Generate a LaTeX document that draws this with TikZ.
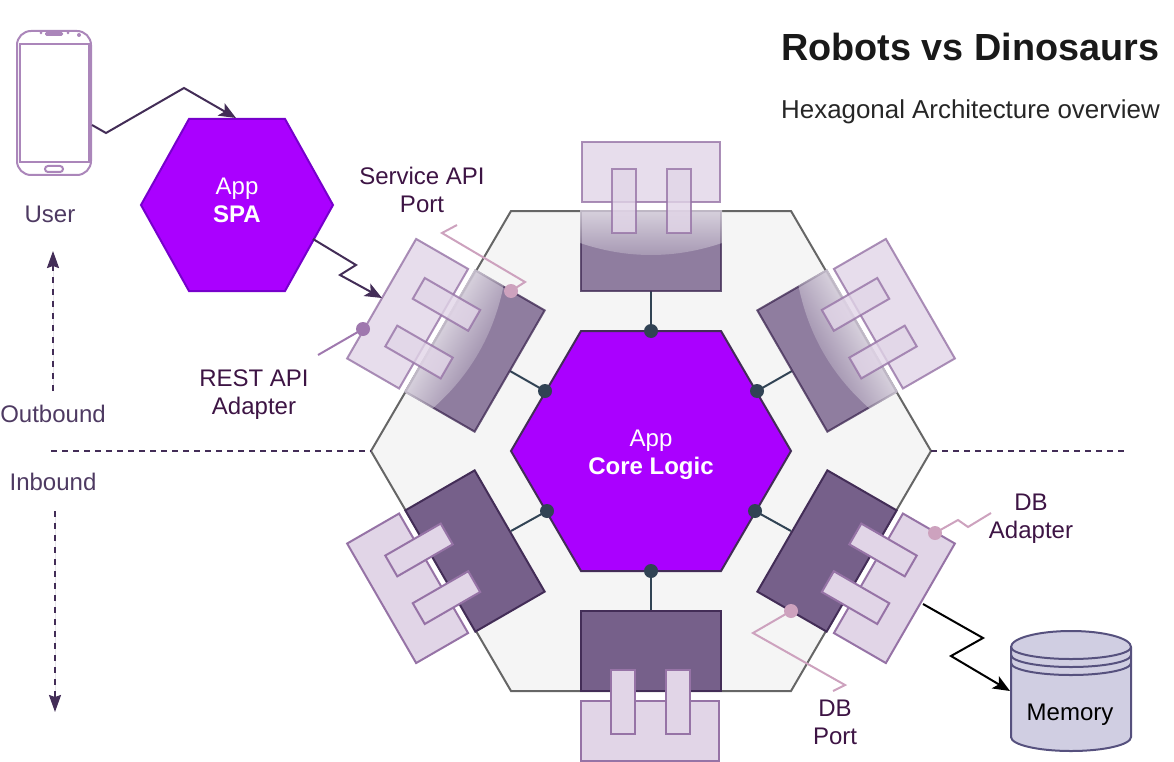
\documentclass[tikz,border=0pt]{standalone}
\usepackage{fontspec}
\setmainfont{Liberation Sans}
\usetikzlibrary{arrows.meta,fadings}
\definecolor{txtdark}{HTML}{3D1444}
\definecolor{txtsoft}{HTML}{4E3A62}
\definecolor{arrowdark}{HTML}{432D57}
\definecolor{portfill}{HTML}{76608A}
\definecolor{adfill}{HTML}{E1D5E7}
\definecolor{adline}{HTML}{9673A6}
\definecolor{purp}{HTML}{AA00FF}
\definecolor{purpline}{HTML}{7700CC}
\definecolor{hexfill}{HTML}{F5F5F5}
\definecolor{hexline}{HTML}{666666}
\definecolor{joint}{HTML}{314354}
\definecolor{pinkdot}{HTML}{CDA2BE}
\definecolor{violetdot}{HTML}{9F78AE}
\definecolor{phoneline}{HTML}{AB86BA}
\definecolor{memfill}{HTML}{D0CEE2}
\definecolor{memline}{HTML}{56517E}
\tikzfading[name=glassfade, top color=transparent!35, bottom color=transparent!82]
\tikzset{
  lbl/.style={font=\fontsize{24}{28}\selectfont, align=center, inner sep=0pt, text=txtdark},
  softlbl/.style={lbl, text=txtsoft},
  wirearrow/.style={draw=arrowdark, line width=2pt, -{Stealth[length=17pt,width=14pt,inset=4pt]}},
  dasharrow/.style={draw=arrowdark, fill=arrowdark, line width=2pt, dash pattern=on 6pt off 6pt, -{Stealth[length=17pt,width=12pt,inset=2pt]}},
  dashline/.style={draw=arrowdark, line width=2pt, dash pattern=on 6pt off 5pt},
  jointline/.style={draw=joint, line width=2pt},
  jointdot/.style={circle, fill=joint, minimum size=14pt, inner sep=0pt},
  calloutp/.style={draw=pinkdot, line width=2pt},
  calloutv/.style={draw=violetdot, line width=2pt},
  pinkmark/.style={circle, fill=pinkdot, minimum size=14pt, inner sep=0pt},
  violetmark/.style={circle, fill=violetdot, minimum size=14pt, inner sep=0pt},
  phonepart/.style={draw=phoneline, line width=2pt},
  adbox/.style={fill=adfill, draw=adline, line width=2pt},
  portbox/.style={fill=portfill, draw=arrowdark, line width=2pt},
}
% #1,#2 port centre, #3 angle, #4,#5 local offset of the adapter
\newcommand{\adapterparts}[2]{%
  \begin{scope}[shift={(#1,#2)}]
    \path[adbox] (-69,-109) rectangle (69,-49);
    \path[adbox] (-39.5,-82) rectangle (-15.5,-18);
    \path[adbox] (15.5,-82) rectangle (39.5,-18);
  \end{scope}}
\newcommand{\plaingroup}[5]{%
  \begin{scope}[shift={(#1,#2)},rotate=#3]
    \path[portbox] (-70,-40) rectangle (70,40);
    \adapterparts{#4}{#5}
  \end{scope}}
\newcommand{\glassgroup}[5]{%
  \begin{scope}[shift={(#1,#2)},rotate=#3]
    \path[portbox,opacity=.8] (-70,-40) rectangle (70,40);
  \end{scope}
  \begin{scope}[transform canvas={shift={(#1,#2)},rotate=#3}]
    \fill[white,path fading=glassfade] (-71,-41) -- (-71,-8) .. controls (-23.3,8) and (23.3,8) .. (71,-8) -- (71,-41) -- cycle;
  \end{scope}
  \begin{scope}[shift={(#1,#2)},rotate=#3,opacity=.8]
    \adapterparts{#4}{#5}
  \end{scope}}
\begin{document}
\begin{tikzpicture}[x=1pt,y=-1pt]
\useasboundingbox (0,0) rectangle (1174,762);
% big hexagon
\fill[hexfill,draw=hexline,line width=2pt] (371,451) -- (511,211) -- (791,211) -- (931,451) -- (791,691) -- (511,691) -- cycle;
% dashed axis
\coordinate (axisLeft) at (51,451);
\coordinate (hexLeft) at (371,451);
\coordinate (hexRight) at (931,451);
\coordinate (axisRight) at (1126,451);
\draw[dashline] (axisLeft) -- (hexLeft);
\draw[dashline] (hexRight) -- (axisRight);
% joints
\coordinate (p1) at (651,291); \coordinate (p2) at (510,371); \coordinate (p3) at (792,371);
\coordinate (p4) at (511,531); \coordinate (p5) at (791,531); \coordinate (p6) at (651,611);
\coordinate (c1) at (651,331); \coordinate (c2) at (545,391); \coordinate (c3) at (757,391);
\coordinate (c4) at (547,511); \coordinate (c5) at (755,511); \coordinate (c6) at (651,571);
\foreach \a/\b in {p1/c1,p2/c2,p3/c3,p4/c4,p5/c5,p6/c6} \draw[jointline] (\a) -- (\b);
% core hexagon
\fill[purp,draw=arrowdark,line width=2pt] (511,451) -- (581,331) -- (721,331) -- (791,451) -- (721,571) -- (581,571) -- cycle;
\node[lbl,text=white] (core) at (651,455) {App\\\textbf{Core Logic}};
\foreach \c in {c1,c2,c3,c4,c5,c6} \node[jointdot] (dot\c) at (\c) {};
% port groups
\glassgroup{651}{251}{0}{0}{0}
\glassgroup{475}{351}{60}{-1.4}{2}
\glassgroup{827}{351}{-60}{1.4}{2}
\plaingroup{475}{551}{120}{1.4}{2}
\plaingroup{827}{551}{-120}{-1.4}{2}
\plaingroup{651}{651}{180}{0.7}{-1}
% SPA
\fill[purp,draw=purpline,line width=2pt] (141,205) -- (189,119) -- (285,119) -- (333,205) -- (285,291) -- (189,291) -- cycle;
\node[lbl,text=white] (spa) at (237,200) {App\\\textbf{SPA}};
% phone
\draw[phonepart,rounded corners=14pt] (17,31) rectangle (91,175);
\draw[phonepart] (19.5,44) rectangle (89,162);
\draw[phonepart,rounded corners=3pt] (45,166) rectangle (63,172);
\fill[phoneline,rounded corners=1.5pt] (45,32) rectangle (63,36);
\fill[phoneline] (79,35) circle (2pt);
\fill[phoneline] (41,33) circle (1.5pt);
\fill[phoneline] (68,33) circle (1.5pt);
% connectors
\coordinate (phoneOut) at (92,125); \coordinate (a1) at (106,133); \coordinate (a2) at (184,88); \coordinate (spaIn) at (236,118);
\draw[wirearrow] (phoneOut) -- (a1) -- (a2) -- (spaIn);
\coordinate (spaOut) at (313,239); \coordinate (b1) at (356,265); \coordinate (b2) at (340,275); \coordinate (adIn) at (382,298);
\draw[wirearrow] (spaOut) -- (b1) -- (b2) -- (adIn);
\coordinate (dbOut) at (923,604); \coordinate (m1) at (983,638); \coordinate (m2) at (951,656); \coordinate (memIn) at (1010,691);
\draw[wirearrow,draw=black] (dbOut) -- (m1) -- (m2) -- (memIn);
% callouts
\coordinate (sp0) at (511,291); \coordinate (sp1) at (525,282); \coordinate (sp2) at (442,233); \coordinate (sp3) at (457,225);
\draw[calloutp] (sp0) -- (sp1) -- (sp2) -- (sp3);
\node[pinkmark] (spDot) at (sp0) {};
\coordinate (ra0) at (363,329); \coordinate (ra1) at (318,355);
\draw[calloutv] (ra0) -- (ra1);
\node[violetmark] (raDot) at (ra0) {};
\coordinate (da0) at (935,533); \coordinate (da1) at (958,520); \coordinate (da2) at (968,527); \coordinate (da3) at (991,513);
\draw[calloutp] (da0) -- (da1) -- (da2) -- (da3);
\node[pinkmark] (daDot) at (da0) {};
\coordinate (dp0) at (791,611); \coordinate (dp1) at (753,633); \coordinate (dp2) at (845,685); \coordinate (dp3) at (833,691);
\draw[calloutp] (dp0) -- (dp1) -- (dp2) -- (dp3);
\node[pinkmark] (dpDot) at (dp0) {};
% memory
\fill[memfill,draw=memline,line width=2pt] (1011,647) arc[start angle=180,end angle=0,x radius=60,y radius=-16] -- (1131,737) arc[start angle=360,end angle=180,x radius=60,y radius=-14] -- cycle;
\draw[memline,line width=2pt] (1011,647) arc[start angle=180,end angle=360,x radius=60,y radius=-12];
\draw[memline,line width=2pt] (1011,655) arc[start angle=180,end angle=360,x radius=60,y radius=-12];
\draw[memline,line width=2pt] (1011,663) arc[start angle=180,end angle=360,x radius=60,y radius=-12];
\node[lbl,text=black] (memory) at (1070,715) {Memory};
% labels
\node[font=\bfseries\fontsize{37.8}{42}\selectfont,inner sep=0pt,text=black!90,anchor=base west] (title) at (781,60.5) {Robots vs Dinosaurs};
\node[lbl,font=\fontsize{25.9}{30}\selectfont,text=black!85,anchor=base west] (subtitle) at (781,119) {Hexagonal Architecture overview};
\node[softlbl] (user) at (50,214) {User};
\node[softlbl] (outb) at (53,414) {Outbound};
\node[softlbl] (inb) at (53,482) {Inbound};
\node[lbl] (svc) at (422,190) {Service API\\Port};
\node[lbl] (rest) at (254,395) {REST API\\Adapter};
\node[lbl] (dba) at (1031,519) {DB\\Adapter};
\node[lbl] (dbp) at (835,722) {DB\\Port};
% flow arrows
\coordinate (upFrom) at (53,391); \coordinate (upTo) at (53,251);
\coordinate (downFrom) at (55,511); \coordinate (downTo) at (55,712);
\draw[dasharrow] (upFrom) -- (upTo);
\draw[dasharrow] (downFrom) -- (downTo);
\end{tikzpicture}
\end{document}
